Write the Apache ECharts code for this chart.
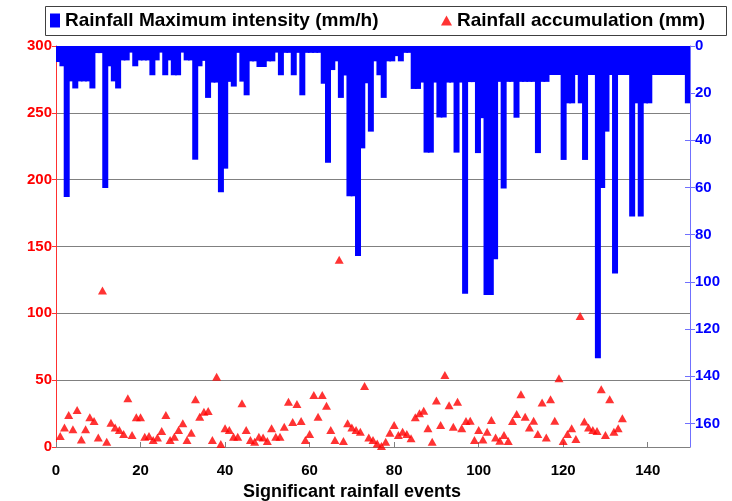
<!DOCTYPE html>
<html><head><meta charset="utf-8">
<script src="https://cdn.jsdelivr.net/npm/echarts@6/dist/echarts.min.js"></script>
<style>html,body{margin:0;padding:0;background:#fff}#c{width:732px;height:501px}</style>
</head><body><div id="c"></div>
<script>
// Rainfall maximum intensity (mm/h), one value per significant event (right, inverted axis)
const intensity = [
 6.8, 8.6, 64, 15, 18, 15, 15, 15, 18, 3,
 3, 60.2, 8.6, 15, 18, 6.1, 6.1, 2.8, 8.6, 6.1,
 6.1, 6.1, 12.4, 6.1, 2.8, 12.4, 6.1, 12.4, 12.4, 2.8,
 6.1, 6.1, 48.2, 8.6, 6.3, 22, 15.5, 15.5, 62, 52,
 15.2, 17.2, 2.9, 15.1, 20.9, 6.5, 6.5, 8.9, 8.9, 6.5,
 6.5, 2.8, 12.4, 2.9, 2.9, 12.4, 2.9, 20.9, 2.9, 2.9,
 2.9, 2.9, 16, 49.5, 10.2, 6.5, 22, 12.5, 63.7, 63.7,
 89, 43.4, 15.8, 36.3, 6.5, 12.4, 22, 6.5, 6.5, 4.3,
 6.5, 2.9, 2.9, 18.2, 18.2, 15.5, 45.2, 45.2, 15.5, 30.3,
 30.3, 15.5, 15.5, 45.2, 15.5, 105, 15.3, 15.3, 45.4, 30.6,
 105.6, 105.6, 90.4, 15.2, 60.4, 15.2, 15.2, 30.4, 15.2, 15.2,
 15.2, 15.2, 45.4, 15.2, 15.2, 12.3, 12.3, 12.3, 48.3, 24.3,
 24.3, 12.3, 24.3, 48.3, 12.3, 12.3, 132.4, 60.2, 36.3, 12.3,
 96.4, 12.3, 12.3, 12.3, 72.3, 24.3, 72.3, 24.3, 24.3, 12.3,
 12.3, 12.3, 12.3, 12.3, 12.3, 12.3, 12.3, 24.3
];
// Rainfall accumulation (mm), events 1..134 (left axis)
const accumulation = [
 8.2, 14.5, 23.9, 13.2, 27.7, 5.7, 13.2, 22.2, 19.5, 7.2,
 117, 4, 18.2, 14.5, 12.7, 9.7, 36.4, 9, 22.2, 22.2,
 7.7, 8.2, 5.2, 7.2, 12, 23.9, 5.2, 7.7, 12.7, 17.7,
 5.2, 10.7, 35.7, 22.7, 26.4, 27, 5.2, 52.6, 2.2, 14,
 12.7, 7.7, 7.7, 32.7, 12.7, 5.2, 4, 7.7, 7.2, 4.4,
 14, 7.7, 7.7, 15.2, 33.9, 18.7, 32.2, 19.5, 5.2, 9.7,
 38.9, 22.7, 38.9, 30.9, 12.7, 5.2, 140, 4.4, 17.7, 14.5,
 12.7, 11.5, 45.6, 7.2, 5.2, 2.7, 0.7, 4, 10.7, 16.5,
 9, 11.5, 9.7, 6.5, 22.2, 25.2, 27.2, 14, 4, 34.7,
 16.5, 53.9, 31.2, 15.2, 33.9, 14, 19.5, 19.7, 5.2, 12.7,
 5.7, 11.5, 20.2, 7.2, 4.7, 9, 4.4, 19.5, 24.7, 39.4,
 22.7, 14.5, 19.7, 9.7, 33.2, 7.2, 35.7, 19.7, 51.4, 4.4,
 9.7, 14, 6, 98, 19, 14.5, 12.7, 12, 43.2, 9,
 35.7, 11.5, 14, 21.5
];
const xTicks = [0, 20, 40, 60, 80, 100, 120, 140];
const leftTicks = [0, 50, 100, 150, 200, 250, 300];
const rightTicks = [0, 20, 40, 60, 80, 100, 120, 140, 160];
const seriesNames = ['Rainfall Maximum intensity (mm/h)', 'Rainfall accumulation (mm)'];
const xTitle = 'Significant rainfall events';

const barEvents = intensity.map((_, i) => i + 1);
const accPoints = accumulation.map((v, i) => [i + 1, v]);

const F = '"Liberation Sans", Arial, sans-serif';
const chart = echarts.init(document.getElementById('c'), null, {renderer: 'canvas', devicePixelRatio: 1});
chart.setOption({
  animation: false,
  backgroundColor: '#fff',
  grid: {left: 56, right: 42, top: 46, bottom: 54, containLabel: false, outerBoundsMode: 'none'},
  graphic: [{type: 'rect', shape: {x: 45.5, y: 6.5, width: 681, height: 29},
    style: {fill: 'none', stroke: '#404040', lineWidth: 1}, z: 10}],
  legend: [
    {data: [{name: seriesNames[0], icon: 'rect'}], left: 50, top: 11, padding: 0,
     itemWidth: 10, itemHeight: 14, selectedMode: false,
     textStyle: {fontFamily: F, fontWeight: 'bold', fontSize: 19, color: '#000'}},
    {data: [{name: seriesNames[1], icon: 'triangle'}], left: 441, top: 11, padding: 0,
     itemWidth: 11, itemHeight: 10, selectedMode: false,
     textStyle: {fontFamily: F, fontWeight: 'bold', fontSize: 19, color: '#000'}}
  ],
  xAxis: [
    {type: 'value', min: 0, max: 150, interval: 20,
     axisLine: {lineStyle: {color: '#808080', width: 1}},
     axisTick: {inside: true, length: 5, customValues: xTicks, lineStyle: {color: '#808080'}},
     axisLabel: {customValues: xTicks, color: '#000', fontWeight: 'bold', fontSize: 15, fontFamily: F, margin: 16},
     splitLine: {show: false},
     name: xTitle, nameLocation: 'middle', nameGap: 29,
     nameTextStyle: {color: '#000', fontWeight: 'bold', fontSize: 18, fontFamily: F, padding: [0, 42, 0, 0]}},
    {type: 'category', data: barEvents, show: false, boundaryGap: true}
  ],
  yAxis: [
    {type: 'value', min: 0, max: 300, interval: 50, position: 'left',
     axisLine: {show: true, lineStyle: {color: '#ff3030', width: 1}},
     axisTick: {show: true, length: 4, customValues: leftTicks, lineStyle: {color: '#ff3030'}},
     axisLabel: {customValues: leftTicks, color: '#ff0000', fontWeight: 'bold', fontSize: 15, fontFamily: F, margin: 4},
     splitLine: {show: true, lineStyle: {color: '#808080', width: 1}}},
    {type: 'value', min: 0, max: 170, interval: 20, inverse: true, position: 'right',
     axisLine: {show: true, lineStyle: {color: '#7070ff', width: 1}},
     axisTick: {show: true, length: 5, customValues: rightTicks, lineStyle: {color: '#7070ff'}},
     axisLabel: {customValues: rightTicks, color: '#0000ff', fontWeight: 'bold', fontSize: 15, fontFamily: F, margin: 5},
     splitLine: {show: false}},
    {type: 'value', min: 0, max: 170, interval: 20, inverse: true, position: 'right',
     axisLine: {show: false},
     axisTick: {show: true, inside: true, length: 5, customValues: rightTicks, lineStyle: {color: '#7070ff'}},
     axisLabel: {show: false}, splitLine: {show: false}}
  ],
  series: [
    {type: 'bar', name: seriesNames[0], xAxisIndex: 1, yAxisIndex: 1, data: intensity,
     barWidth: 6, itemStyle: {color: '#0000ff'}, z: 2},
    {type: 'scatter', name: seriesNames[1], xAxisIndex: 0, yAxisIndex: 0, data: accPoints,
     symbol: 'triangle', symbolSize: [9, 8], itemStyle: {color: '#ff0000'}, z: 3}
  ]
});
</script></body></html>
